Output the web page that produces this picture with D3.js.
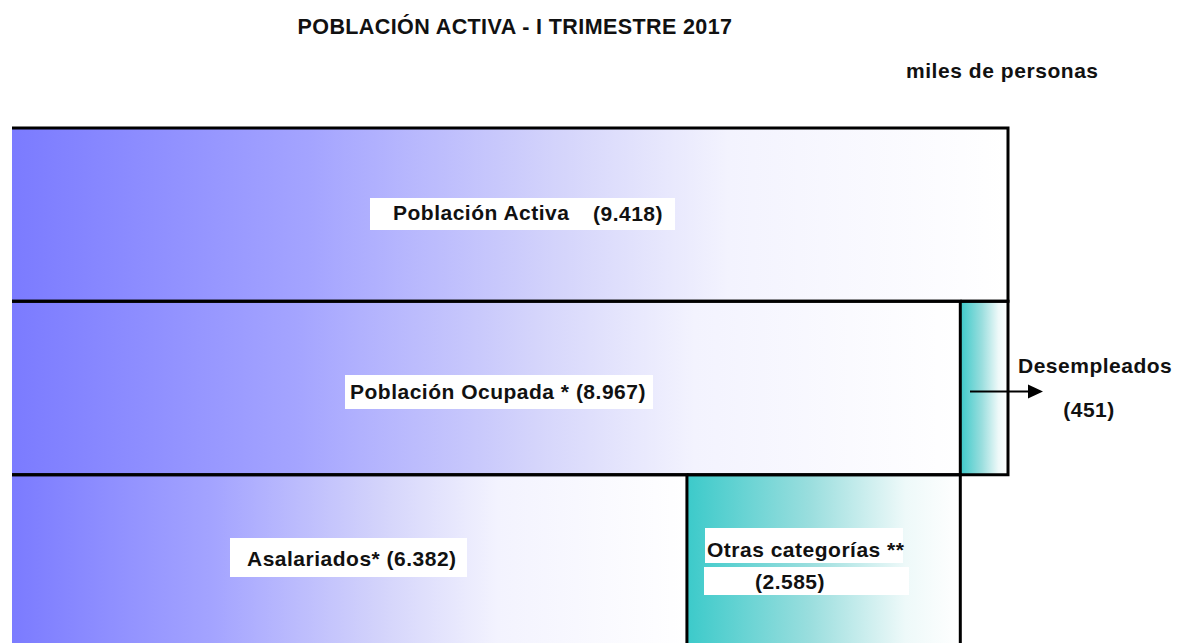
<!DOCTYPE html>
<html><head><meta charset="utf-8">
<script src="https://cdn.jsdelivr.net/npm/d3@7/dist/d3.min.js"></script>
<style>body{margin:0;background:#fff}svg{display:block;font-family:"Liberation Sans",Arial,sans-serif}</style>
</head><body>
<svg id="c" width="1177" height="643"></svg>
<script>
const title = "POBLACIÓN ACTIVA - I TRIMESTRE 2017";
const unitLabel = "miles de personas";
const rowNames = ["Población Activa", "Población Ocupada", "Asalariados"];
const categories = ["Población Activa", "Población Ocupada *", "Desempleados", "Asalariados*", "Otras categorías **"];
const values = [9418, 8967, 451, 6382, 2585];
const rowOf = [0, 1, 1, 2, 2];
const colorKind = ["blue", "blue", "teal", "blue", "teal"];

const svg = d3.select("#c");
const es = d3.formatLocale({decimal: ",", thousands: ".", grouping: [3], currency: ["", "€"]});
const fmt = es.format(",d");

const x = d3.scaleLinear().domain([0, d3.max(values)]).range([12, 1008]);
const y = d3.scaleBand().domain(rowNames).range([128, 648]).padding(0);

const defs = svg.append("defs");
const gb = defs.append("linearGradient").attr("id", "blue").attr("x1", 0).attr("x2", 1).attr("y1", 0).attr("y2", 0);
[[0, "#7b7bff"], [0.3, "#a4a4ff"], [0.55, "#d4d4fb"], [0.72, "#f3f3fe"], [1, "#ffffff"]].forEach(s => gb.append("stop").attr("offset", s[0]).attr("stop-color", s[1]));
const gt = defs.append("linearGradient").attr("id", "teal").attr("x1", 0).attr("x2", 1).attr("y1", 0).attr("y2", 0);
[[0, "#3ccaca"], [0.45, "#9adede"], [0.8, "#eef9f9"], [1, "#ffffff"]].forEach(s => gt.append("stop").attr("offset", s[0]).attr("stop-color", s[1]));

const offsets = [0, 0, 0];
const segs = values.map((v, i) => {
  const r = rowOf[i];
  const s = {name: categories[i], value: v, row: rowNames[r], x0: offsets[r], x1: offsets[r] + v, kind: colorKind[i]};
  offsets[r] += v;
  return s;
});

svg.selectAll("rect.seg").data(segs).join("rect").attr("class", "seg")
  .attr("x", d => x(d.x0)).attr("width", d => x(d.x1) - x(d.x0))
  .attr("y", d => y(d.row)).attr("height", y.bandwidth())
  .attr("fill", d => `url(#${d.kind})`);

svg.selectAll("path.bd").data(segs).join("path").attr("class", "bd")
  .attr("d", d => `M${x(d.x0)},${y(d.row)}H${x(d.x1)}V${y(d.row) + y.bandwidth()}H${x(d.x0)}`)
  .attr("fill", "none").attr("stroke", "#000").attr("stroke-width", 3);

svg.append("text").attr("x", 515).attr("y", 34).attr("text-anchor", "middle")
  .attr("font-size", 21.5).attr("letter-spacing", 0.4).attr("font-weight", "bold").attr("fill", "#111").text(title);
svg.append("text").attr("x", 906).attr("y", 78)
  .attr("font-size", 21).attr("letter-spacing", 0.55).attr("font-weight", "bold").attr("fill", "#111").text(unitLabel);

const FS = 21, LS = 0.5;
function txt(tx, ty, t, anchor) {
  svg.append("text").attr("x", tx).attr("y", ty).attr("font-size", FS).attr("letter-spacing", LS).attr("font-weight", "bold")
    .attr("text-anchor", anchor || "start").attr("fill", "#111").text(t);
}
function box(bx, by, bw, bh) {
  svg.append("rect").attr("x", bx).attr("y", by).attr("width", bw).attr("height", bh).attr("fill", "#fff");
}
const s0 = segs[0], s1 = segs[1], s2 = segs[2], s3 = segs[3], s4 = segs[4];
box(370, 198, 305, 32); txt(393, 220, s0.name); txt(593, 221, "(" + fmt(s0.value) + ")");
box(345, 375, 308, 34); txt(350, 399, s1.name + " (" + fmt(s1.value) + ")");
box(230, 538, 237, 39); txt(247, 566, s3.name + " (" + fmt(s3.value) + ")");
box(705, 528, 198, 35); txt(707, 557, s4.name);
box(704, 567, 205, 28); txt(790, 589, "(" + fmt(s4.value) + ")", "middle");

const ay = y(s2.row) + y.bandwidth() * 0.52;
svg.append("line").attr("x1", 970).attr("x2", 1032).attr("y1", ay).attr("y2", ay)
  .attr("stroke", "#000").attr("stroke-width", 2);
svg.append("path").attr("d", `M1028,${ay - 7}L1043,${ay}L1028,${ay + 7}Z`).attr("fill", "#000");
txt(1018, 373, s2.name);
txt(1089, 417, "(" + fmt(s2.value) + ")", "middle");
</script>
</body></html>
